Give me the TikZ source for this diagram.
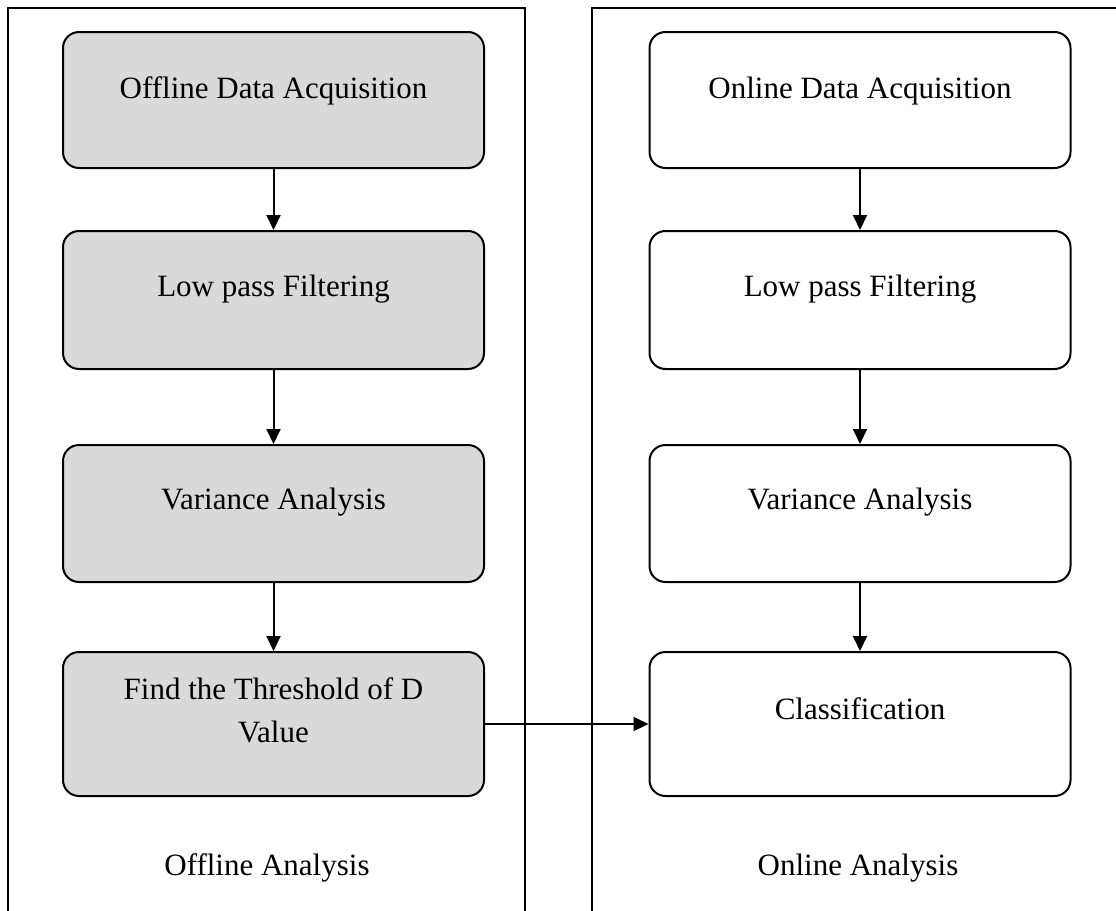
\documentclass[tikz,border=0pt]{standalone}
\usepackage{fontspec}
\setmainfont{Liberation Serif}
\usetikzlibrary{arrows.meta}
\definecolor{boxgray}{HTML}{D9D9D9}
\begin{document}
\begin{tikzpicture}[x=1pt,y=-1pt,
  box/.style={draw=black, line width=2pt, rounded corners=16pt, inner sep=0pt, minimum width=421pt},
  offbox/.style={box, fill=boxgray},
  onbox/.style={box, fill=white},
  lbl/.style={font=\fontsize{31}{43}\selectfont, anchor=base, inner sep=0pt, align=center},
  flow/.style={line width=2pt, -{Triangle[length=15pt,width=14pt]}},
  panel/.style={line width=2pt}]
\useasboundingbox (0,0) rectangle (1116,910);
% panels
\coordinate (pl1) at (8,915);
\coordinate (pl2) at (8,8);
\coordinate (pl3) at (525,8);
\coordinate (pl4) at (525,915);
\coordinate (pr1) at (592,915);
\coordinate (pr2) at (592,8);
\coordinate (pr3) at (1120,8);
\draw[panel] (pl1) -- (pl2) -- (pl3) -- (pl4);
\draw[panel] (pr1) -- (pr2) -- (pr3);
% offline boxes
\node[offbox, minimum height=136pt] (o1) at (273.5,100) {};
\node[offbox, minimum height=138pt] (o2) at (273.5,300) {};
\node[offbox, minimum height=137pt] (o3) at (273.5,513.5) {};
\node[offbox, minimum height=144pt] (o4) at (273.5,724) {};
% online boxes
\node[onbox, minimum height=136pt] (n1) at (860,100) {};
\node[onbox, minimum height=138pt] (n2) at (860,300) {};
\node[onbox, minimum height=137pt] (n3) at (860,513.5) {};
\node[onbox, minimum height=144pt] (n4) at (860,724) {};
% texts
\node[lbl] (o1t) at (273.5,98) {Offline Data Acquisition};
\node[lbl] (o2t) at (273.5,296) {Low pass Filtering};
\node[lbl] (o3t) at (273.5,509) {Variance Analysis};
\node[lbl, anchor=center] (o4t) at (273.5,710) {Find the Threshold of D\\Value};
\node[lbl] (n1t) at (860,98) {Online Data Acquisition};
\node[lbl] (n2t) at (860,296) {Low pass Filtering};
\node[lbl] (n3t) at (860,509) {Variance Analysis};
\node[lbl] (n4t) at (860,719) {Classification};
\node[lbl] (offlbl) at (267,875) {Offline Analysis};
\node[lbl] (onlbl) at (858,875) {Online Analysis};
% connectors
\draw[flow] (o1) -- (o2);
\draw[flow] (o2) -- (o3);
\draw[flow] (o3) -- (o4);
\draw[flow] (n1) -- (n2);
\draw[flow] (n2) -- (n3);
\draw[flow] (n3) -- (n4);
\draw[flow] (o4.east) -- (n4.west);
\end{tikzpicture}
\end{document}
